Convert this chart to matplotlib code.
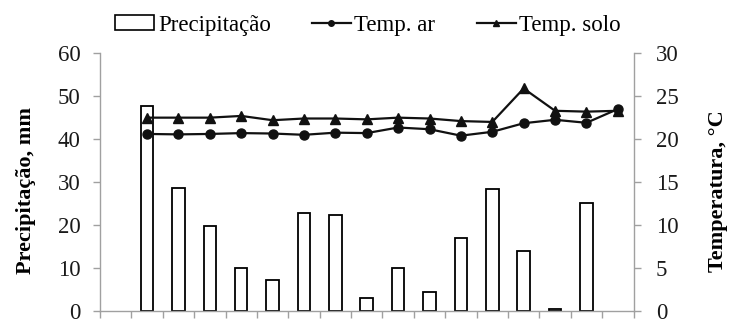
import matplotlib
matplotlib.use("Agg")
import matplotlib.pyplot as plt
import numpy as np
from matplotlib.patches import Patch
from matplotlib.lines import Line2D

plt.rcParams['font.family'] = ['Liberation Serif', 'DejaVu Serif']

# Data (categories 1..16 on a 17-slot axis; slot 0 is empty)
bar_positions = list(range(1, 16))
precip = [47.8, 28.6, 19.7, 10.0, 7.1, 22.7, 22.4, 3.0, 10.0, 4.3, 17.0, 28.4, 13.9, 0.4, 25.2]
line_positions = list(range(1, 17))
temp_ar = [20.6, 20.55, 20.6, 20.7, 20.65, 20.5, 20.75, 20.7, 21.35, 21.15, 20.4, 20.85, 21.85, 22.25, 21.9, 23.5]
temp_solo = [22.5, 22.5, 22.5, 22.7, 22.2, 22.4, 22.4, 22.3, 22.5, 22.4, 22.1, 22.0, 25.9, 23.3, 23.2, 23.3]
left_ticks = [0, 10, 20, 30, 40, 50, 60]
right_ticks = [0, 5, 10, 15, 20, 25, 30]

W, H = 733, 323
fig = plt.figure(figsize=(W / 100, H / 100), dpi=100)
ax = fig.add_axes([100 / W, 1 - 310.7 / H, (633.5 - 100) / W, (310.7 - 53.3) / H])
ax2 = ax.twinx()

spine_col = '#a0a0a0'
ax.bar(bar_positions, precip, width=0.4, facecolor='white', edgecolor='black', linewidth=1.3, zorder=2)
ax.set_xlim(-0.5, 16.5)
ax.set_ylim(0, 60)
ax.set_yticks(left_ticks)
ax.set_xticks(np.arange(-0.5, 17.0, 1.0))
ax.set_xticklabels([])

ax2.plot(line_positions, temp_ar, color='#111111', lw=1.6, marker='o', ms=6.5, zorder=3)
ax2.plot(line_positions, temp_solo, color='#111111', lw=1.6, marker='^', ms=6.5, zorder=3)
ax2.set_ylim(0, 30)
ax2.set_yticks(right_ticks)

for a in (ax, ax2):
    a.spines['top'].set_visible(False)
    for s in ('left', 'right', 'bottom'):
        a.spines[s].set_color(spine_col)
        a.spines[s].set_linewidth(1.0)
    a.tick_params(colors=spine_col, labelcolor='#1a1a1a', length=5, width=1.0, labelsize=16.5)
ax.tick_params(axis='y', pad=9)
ax2.tick_params(axis='y', pad=11)
ax.spines['right'].set_visible(False)
ax2.spines['left'].set_visible(False)
ax2.spines['bottom'].set_visible(False)

fig.text(26 / W, 1 - 190 / H, 'Precipitação, mm', rotation=90, ha='center', va='center',
         fontsize=16, fontweight='bold')
fig.text(718 / W, 1 - 191 / H, 'Temperatura, °C', rotation=90, ha='center', va='center',
         fontsize=16, fontweight='bold')

handles = [
    Patch(facecolor='white', edgecolor='black', linewidth=1.2),
    Line2D([], [], color='#111111', lw=1.6, marker='o', ms=4),
    Line2D([], [], color='#111111', lw=1.6, marker='^', ms=4),
]
labels = ['Precipitação', 'Temp. ar', 'Temp. solo']
fig.legend(handles, labels, loc='center', bbox_to_anchor=(368 / W, 1 - 25 / H), ncol=3,
           frameon=False, fontsize=16.5, handlelength=1.7, handleheight=0.6,
           handletextpad=0.15, columnspacing=1.8, borderaxespad=0)

fig.savefig('out.png', dpi=100)
